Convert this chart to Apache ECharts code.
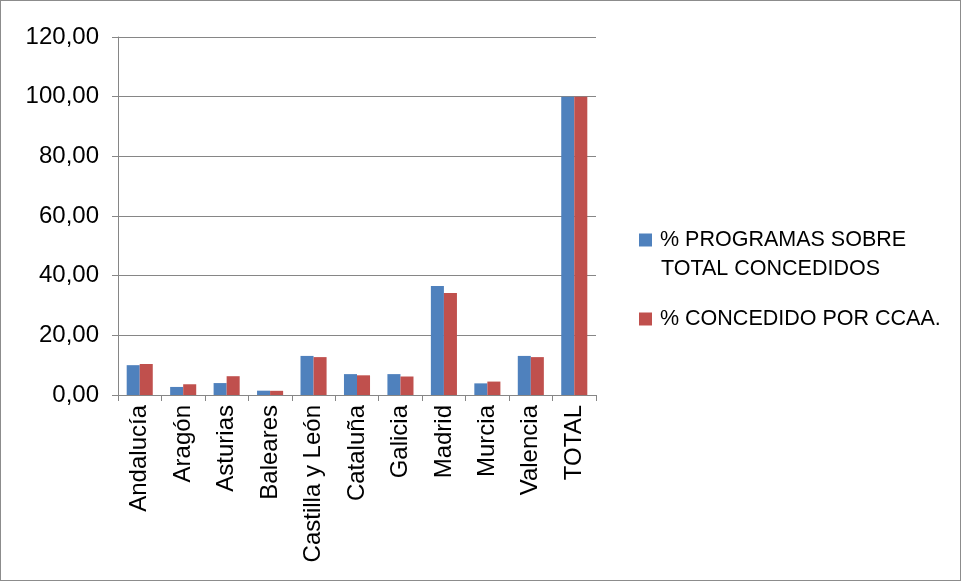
<!DOCTYPE html>
<html><head><meta charset="utf-8">
<script src="https://cdn.jsdelivr.net/npm/echarts@6/dist/echarts.min.js"></script>
<style>
html,body{margin:0;padding:0;background:#fff;}
#c{position:absolute;left:0;top:0;width:959px;height:579px;border:1px solid #8c8c8c;}
</style></head><body>
<div id="c"></div>
<script>
const categories = ['Andalucía','Aragón','Asturias','Baleares','Castilla y León','Cataluña','Galicia','Madrid','Murcia','Valencia','TOTAL'];
const programas = [10.0, 2.7, 4.0, 1.45, 13.1, 7.0, 7.0, 36.5, 3.9, 13.1, 100];
const concedido = [10.4, 3.6, 6.3, 1.4, 12.7, 6.6, 6.2, 34.2, 4.5, 12.7, 100];
const seriesNames = ['% PROGRAMAS SOBRE TOTAL CONCEDIDOS', '% CONCEDIDO POR CCAA.'];
const legendLines = ['% PROGRAMAS SOBRE', 'TOTAL CONCEDIDOS'];

const chart = echarts.init(document.getElementById('c'));
const font = 'Liberation Sans';
chart.setOption({
  backgroundColor: '#fff',
  animation: false,
  grid: {left: 117, right: 364, top: 36, bottom: 185},
  legend: {
    orient: 'vertical', left: 633, top: 221,
    itemWidth: 13, itemHeight: 13, itemGap: 53,
    icon: 'rect',
    textStyle: {fontFamily: font, fontSize: 21.5, color: '#000', lineHeight: 26, padding: [0, 0, 0, 3]},
    formatter: n => n === seriesNames[0] ? legendLines[0] : n,
    data: seriesNames
  },
  graphic: [{
    type: 'text', left: 660, top: 257,
    style: {text: legendLines[1], font: '21.5px "Liberation Sans"', fill: '#000'}
  }],
  xAxis: {
    type: 'category', data: categories,
    axisLine: {lineStyle: {color: '#868686', width: 1}},
    axisTick: {show: true, length: 6, lineStyle: {color: '#868686'}},
    axisLabel: {rotate: 90, interval: 0, fontFamily: font, fontSize: 24, color: '#000', margin: 10}
  },
  yAxis: {
    type: 'value', min: 0, max: 120, interval: 20,
    axisLine: {show: true, lineStyle: {color: '#868686'}},
    axisTick: {show: true, length: 6, lineStyle: {color: '#868686'}},
    splitLine: {lineStyle: {color: '#868686', width: 1}},
    axisLabel: {fontFamily: font, fontSize: 24, color: '#000', margin: 19,
      formatter: v => v.toFixed(2).replace('.', ',')}
  },
  series: [
    {name: seriesNames[0], type: 'bar', data: programas, barGap: '0%', barCategoryGap: '40%',
     itemStyle: {color: '#4f81bd'}},
    {name: seriesNames[1], type: 'bar', data: concedido,
     itemStyle: {color: '#c0504d'}}
  ]
});
</script></body></html>
